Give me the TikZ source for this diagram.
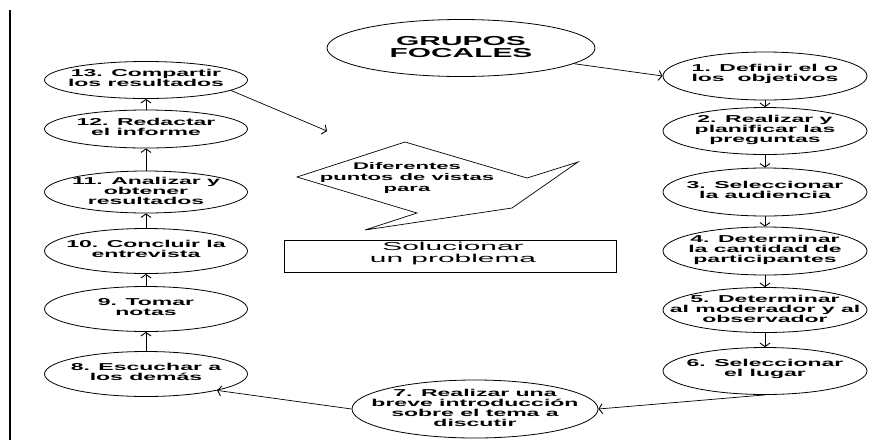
\documentclass[tikz,border=0pt]{standalone}
\usepackage{fontspec}
\usetikzlibrary{shapes.geometric,arrows.meta}
\newfontfamily\bodyfont[FakeStretch=2.3]{Liberation Sans}
\newfontfamily\boxfont[FakeStretch=2.6]{Liberation Sans}
\tikzset{
  stage/.style={draw, ellipse, line width=0.8pt, inner sep=0pt, minimum width=204pt, minimum height=47pt},
  txt/.style={align=center, inner sep=0pt, font=\bodyfont\bfseries\fontsize{10}{10.2}\selectfont},
  conn/.style={line width=0.7pt, -{Straight Barb[length=3.5pt,width=10pt,line width=0.9pt]}},
}
\begin{document}
\begin{tikzpicture}[x=1pt,y=-1pt]
\useasboundingbox (0,0) rectangle (892,440);
\fill[white] (0,0) rectangle (892,440);
% left vertical rule
\coordinate (ltop) at (10,10);
\coordinate (lbot) at (10,440);
\draw[line width=1.3pt] (ltop) -- (lbot);

% title
\node[stage, minimum width=268pt, minimum height=57pt] (g) at (461,48) {};
\node[txt, font=\bodyfont\bfseries\fontsize{13}{12.6}\selectfont] (gt) at (461,47) {GRUPOS\\FOCALES};

% right column
\node[stage, minimum height=48pt] (e1) at (765,76) {};
\node[txt] (t1) at (765,74) {1. Definir el o\\los \ objetivos};
\node[stage] (e2) at (765,131) {};
\node[txt] (t2) at (765,130) {2. Realizar y\\planificar las\\preguntas};
\node[stage, minimum height=48pt] (e3) at (765,192) {};
\node[txt] (t3) at (765,190) {3. Seleccionar\\la audiencia};
\node[stage, minimum height=48pt] (e4) at (765,251) {};
\node[txt] (t4) at (765,250) {4. Determinar\\la cantidad de\\participantes};
\node[stage, minimum height=45pt] (e5) at (765,310) {};
\node[txt] (t5) at (765,309) {5. Determinar\\al moderador y al\\observador};
\node[stage] (e6) at (765,371) {};
\node[txt] (t6) at (765,369) {6. Seleccionar\\el lugar};

% bottom
\node[stage, minimum width=246pt, minimum height=58pt] (e7) at (475,409) {};
\node[txt] (t7) at (475,408) {7. Realizar una\\breve introducción\\sobre el tema a\\discutir};

% left column
\node[stage, minimum width=203pt, minimum height=45pt] (e8) at (146,374) {};
\node[txt] (t8) at (146,372) {8. Escuchar a\\los demás};
\node[stage, minimum width=203pt, minimum height=45pt] (e9) at (146,309) {};
\node[txt] (t9) at (146,307) {9. Tomar\\notas};
\node[stage, minimum width=203pt, minimum height=45pt] (e10) at (146,251) {};
\node[txt] (t10) at (146,249) {10. Concluir la\\entrevista};
\node[stage, minimum width=203pt, minimum height=42pt] (e11) at (146,192) {};
\node[txt] (t11) at (146,191) {11. Analizar y\\obtener\\resultados};
\node[stage, minimum width=203pt, minimum height=38pt] (e12) at (146,129) {};
\node[txt] (t12) at (146,127) {12. Redactar\\el informe};
\node[stage, minimum width=203pt, minimum height=37pt] (e13) at (146,80) {};
\node[txt] (t13) at (146,78) {13. Compartir\\los resultados};

% callout
\draw[line width=0.7pt] (297,177) -- (405,142) -- (527,178) -- (578,162) -- (512,208) -- (365,230) -- (417,213) -- cycle;
\node[txt, font=\bodyfont\bfseries\fontsize{9.6}{10.8}\selectfont] (ct) at (407,178) {Diferentes\\puntos de vistas\\para};

% rectangle
\node[draw, line width=0.8pt, minimum width=332pt, minimum height=32pt, inner sep=0pt] (sol) at (450,256) {};
\node[align=center, inner sep=0pt, font=\boxfont\fontsize{11.5}{12}\selectfont] (solt) at (453,254) {Solucionar\\un problema};

% connectors
\coordinate (free) at (327,131);
\draw[conn] (g) -- (e1.west);
\draw[conn] (e1) -- (e2);
\draw[conn] (e2) -- (e3);
\draw[conn] (e3) -- (e4);
\draw[conn] (e4) -- (e5);
\draw[conn] (e5) -- (e6);
\draw[conn] (e6.south) -- (e7.east);
\draw[conn] (e7.west) -- (e8.-13);
\draw[conn] (e8) -- (e9);
\draw[conn] (e9) -- (e10);
\draw[conn] (e10) -- (e11);
\draw[conn] (e11) -- (e12);
\draw[conn] (e12) -- (e13);
\draw[conn] (e13.-7) -- (free);
\end{tikzpicture}
\end{document}
